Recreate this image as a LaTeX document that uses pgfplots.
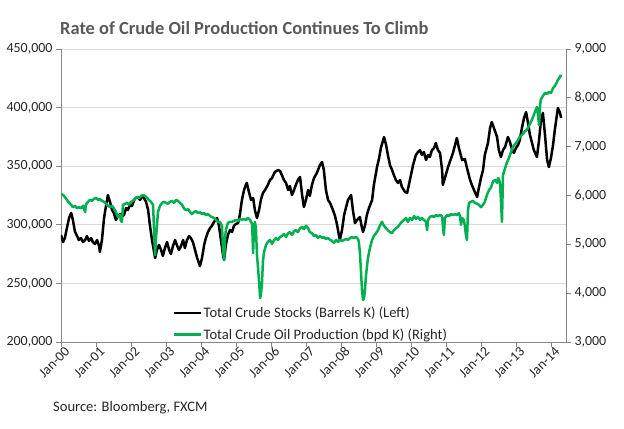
\documentclass[border=0pt]{standalone}
\usepackage{pgfplots}
\usepackage{pgfplotstable}
\pgfplotsset{compat=1.18}
\usepackage{fontspec}
\setmainfont{Carlito}
\definecolor{oilgreen}{HTML}{00B050}
\definecolor{axgray}{HTML}{868686}
\definecolor{gridgray}{HTML}{D9D9D9}
\definecolor{titlegray}{HTML}{595959}
\definecolor{txt}{HTML}{262626}

\pgfplotstableread{
x y
0.00 291300
0.06 285300
0.11 288700
0.17 297300
0.23 305800
0.29 310100
0.34 304100
0.40 293900
0.46 290400
0.51 287000
0.57 288700
0.63 285300
0.69 287000
0.74 290400
0.80 286200
0.86 288700
0.91 285300
0.97 283600
1.03 287000
1.09 281900
1.11 276800
1.17 287000
1.23 305800
1.29 316900
1.34 325400
1.40 319500
1.46 312600
1.51 310100
1.57 304100
1.63 307500
1.69 309200
1.74 306700
1.80 308400
1.86 314300
1.91 312600
1.97 316900
2.03 316000
2.09 321200
2.14 322900
2.20 323700
2.26 321200
2.31 324600
2.37 322900
2.43 319500
2.49 312600
2.54 299800
2.60 287000
2.66 276800
2.69 271700
2.74 278500
2.80 282800
2.86 278500
2.91 273400
2.97 280200
3.03 285300
3.09 278500
3.14 275100
3.20 281900
3.26 287000
3.31 282800
3.37 278500
3.43 281900
3.49 287000
3.54 280200
3.60 287000
3.66 290400
3.71 288700
3.77 285300
3.83 278500
3.89 271700
3.97 264800
4.03 271700
4.09 282800
4.14 288700
4.20 293900
4.26 297300
4.31 299000
4.37 302400
4.46 305800
4.51 299800
4.57 287000
4.63 274200
4.66 270000
4.71 282800
4.77 291300
4.83 295600
4.89 293900
4.94 299000
5.00 300700
5.06 301500
5.11 308400
5.17 321200
5.23 329700
5.29 334800
5.31 335700
5.37 328000
5.43 321200
5.49 322900
5.54 312600
5.60 305800
5.66 312600
5.71 321200
5.77 327100
5.83 329700
5.91 334000
5.97 338200
6.03 339900
6.11 345000
6.20 346800
6.26 345900
6.31 342500
6.37 338200
6.43 335700
6.49 329700
6.54 333100
6.60 325400
6.66 329700
6.71 334000
6.77 338200
6.83 340800
6.89 325400
6.94 315200
7.00 321200
7.06 329700
7.11 324600
7.17 334000
7.23 339900
7.31 344200
7.40 351000
7.46 353600
7.51 346800
7.57 329700
7.63 321200
7.69 318600
7.77 312600
7.83 307500
7.89 299800
7.94 291300
7.97 287000
8.03 295600
8.09 308400
8.14 314300
8.20 321200
8.29 325400
8.34 312600
8.40 301500
8.46 304100
8.54 306700
8.60 297300
8.63 293900
8.69 299800
8.74 308400
8.80 314300
8.89 321200
8.94 334000
9.03 349300
9.09 357000
9.14 365500
9.23 374900
9.29 368100
9.34 359600
9.40 351000
9.46 346800
9.51 342500
9.57 338200
9.63 335700
9.69 338200
9.74 332300
9.83 328000
9.89 327100
9.94 334000
10.00 342500
10.06 351000
10.14 359600
10.20 362100
10.26 363800
10.31 359600
10.37 362100
10.43 355300
10.49 359600
10.54 357900
10.60 363800
10.66 365500
10.71 369800
10.77 363800
10.83 361300
10.89 346800
10.91 334000
10.97 339900
11.06 349300
11.11 353600
11.20 361300
11.26 368100
11.31 374100
11.37 365500
11.46 355300
11.54 356100
11.60 348500
11.69 338200
11.74 334000
11.80 329700
11.89 323700
11.94 331400
12.00 339900
12.06 346800
12.11 359600
12.20 369800
12.26 382600
12.31 387700
12.37 382600
12.46 374900
12.51 363800
12.57 357900
12.63 363800
12.69 366400
12.77 374900
12.83 370600
12.89 363800
12.94 361300
13.00 365500
13.06 368100
13.11 372400
13.17 382600
13.23 391100
13.29 396200
13.34 387700
13.40 376600
13.46 369800
13.51 363800
13.60 357900
13.66 372400
13.71 387700
13.77 395400
13.83 376600
13.89 355300
13.94 349300
14.00 357000
14.06 368100
14.11 380900
14.17 393700
14.20 399700
14.26 395400
14.29 391100
}\stocks

\pgfplotstableread{
x y
0.00 6030
0.06 6010
0.11 5970
0.17 5910
0.23 5850
0.29 5810
0.34 5760
0.40 5790
0.46 5740
0.51 5760
0.57 5740
0.63 5790
0.69 5660
0.71 5810
0.77 5870
0.83 5910
0.89 5890
0.94 5930
1.00 5950
1.06 5910
1.11 5930
1.17 5890
1.23 5870
1.29 5830
1.34 5790
1.40 5760
1.46 5790
1.51 5740
1.57 5660
1.63 5560
1.69 5600
1.71 5480
1.74 5460
1.77 5810
1.83 5830
1.89 5850
1.94 5810
2.00 5870
2.06 5890
2.11 5930
2.17 5970
2.23 5950
2.29 5990
2.34 6010
2.40 5990
2.46 5950
2.51 5910
2.57 5870
2.63 5810
2.66 5290
2.69 4780
2.71 5090
2.74 5360
2.77 5660
2.83 5790
2.89 5850
2.94 5870
3.00 5850
3.06 5830
3.11 5870
3.17 5890
3.23 5850
3.29 5910
3.34 5890
3.40 5850
3.46 5810
3.51 5740
3.57 5700
3.63 5720
3.69 5660
3.74 5620
3.80 5660
3.86 5680
3.91 5640
3.97 5660
4.03 5620
4.09 5640
4.14 5600
4.20 5620
4.26 5580
4.31 5560
4.37 5540
4.43 5500
4.49 5460
4.54 5460
4.60 5380
4.63 4880
4.66 4680
4.69 5130
4.71 5290
4.77 5440
4.83 5460
4.89 5460
4.94 5480
5.00 5500
5.06 5480
5.11 5520
5.17 5500
5.23 5520
5.29 5500
5.34 5540
5.40 5500
5.46 5420
5.49 4820
5.51 5290
5.54 5460
5.57 5330
5.60 4780
5.63 4520
5.66 4230
5.69 3900
5.71 3960
5.74 4170
5.77 4640
5.80 4840
5.86 4990
5.91 5050
5.97 5090
6.03 5010
6.09 5090
6.14 5130
6.20 5090
6.26 5150
6.31 5170
6.37 5210
6.43 5150
6.49 5230
6.54 5250
6.60 5190
6.66 5270
6.71 5290
6.77 5250
6.83 5330
6.89 5360
6.94 5310
7.00 5380
7.06 5330
7.11 5250
7.17 5230
7.23 5170
7.29 5190
7.34 5130
7.40 5170
7.46 5130
7.51 5150
7.57 5110
7.63 5130
7.69 5090
7.74 5070
7.80 5030
7.86 5090
7.91 5050
7.97 5090
8.03 5070
8.09 5090
8.14 5110
8.20 5090
8.26 5130
8.31 5150
8.37 5130
8.43 5150
8.49 5110
8.51 5050
8.54 4840
8.57 4470
8.60 4070
8.63 3860
8.66 3900
8.69 4110
8.71 4330
8.77 4720
8.83 4930
8.89 5090
8.94 5170
9.00 5230
9.06 5290
9.11 5380
9.17 5460
9.23 5380
9.29 5330
9.34 5290
9.40 5250
9.46 5230
9.51 5290
9.57 5330
9.63 5360
9.69 5420
9.74 5460
9.80 5500
9.86 5540
9.91 5460
9.97 5540
10.03 5500
10.09 5580
10.14 5520
10.20 5560
10.26 5500
10.31 5540
10.37 5500
10.43 5460
10.46 5290
10.49 5500
10.54 5560
10.60 5580
10.66 5560
10.71 5600
10.77 5580
10.83 5600
10.89 5580
10.91 5400
10.94 5190
10.97 5540
11.03 5600
11.09 5580
11.14 5620
11.20 5600
11.26 5620
11.31 5600
11.37 5640
11.40 5580
11.43 5400
11.46 5540
11.51 5500
11.54 5380
11.57 5190
11.60 5090
11.63 5700
11.66 5850
11.71 5870
11.77 5890
11.83 5850
11.89 5830
11.94 5810
12.00 5760
12.06 5810
12.11 5870
12.17 6010
12.23 6110
12.29 6170
12.34 6280
12.40 6320
12.46 6260
12.49 6360
12.54 6280
12.57 5910
12.60 5460
12.63 6420
12.69 6560
12.74 6670
12.80 6770
12.86 6890
12.91 6990
12.97 7050
13.03 7100
13.09 7180
13.14 7220
13.20 7260
13.26 7320
13.31 7340
13.37 7420
13.43 7510
13.49 7610
13.54 7710
13.60 7810
13.63 7650
13.66 7440
13.69 7850
13.71 7960
13.77 8040
13.83 8100
13.89 8080
13.94 8120
14.00 8100
14.06 8200
14.11 8240
14.17 8320
14.20 8370
14.26 8430
14.29 8470
}\production

\pgfplotsset{
  myaxis/.style={
    scale only axis, width=505bp, height=293bp,
    at={(0,0)}, anchor=south west,
    xmin=0, xmax=14.43,
    axis line style={axgray, line width=0.75bp},
    tick style={axgray, line width=0.75bp},
    tick align=outside, major tick length=5bp,
    ticklabel style={font=\fontsize{14}{16}\selectfont, text=txt},
    /pgf/number format/fixed,
    /pgf/number format/1000 sep={,},
    /pgf/number format/assume math mode=true,
    scaled y ticks=false,
  }
}

\begin{document}
\begin{tikzpicture}
\begin{axis}[myaxis, name=main,
  ymin=200000, ymax=450000,
  axis y line*=left, axis x line*=bottom,
  ytick={200000,250000,300000,350000,400000,450000},
  ymajorgrids, grid style={gridgray, line width=0.75bp},
  xtick={0,1,...,14},
  xticklabels={Jan-00,Jan-01,Jan-02,Jan-03,Jan-04,Jan-05,Jan-06,Jan-07,Jan-08,Jan-09,Jan-10,Jan-11,Jan-12,Jan-13,Jan-14},
  xticklabel style={rotate=45, anchor=east, inner sep=1bp, xshift=4bp, yshift=-6bp},
]
\addplot[black, line width=2.5bp, line join=round] table {\stocks};
\end{axis}
\begin{axis}[myaxis,
  ymin=3000, ymax=9000,
  axis y line*=right, axis x line=none,
  ytick={3000,4000,5000,6000,7000,8000,9000},
  legend style={at={(axis description cs:0.2218,0.0)}, anchor=south west,
    draw=none, fill=none, inner sep=0pt, row sep=7.5bp,
    font=\fontsize{14.6}{17}\selectfont, text=txt,
    nodes={inner sep=1bp}},
  legend cell align=left,
  legend image code/.code={\draw[#1] (0bp,0bp) -- (27bp,0bp);},
]
\addlegendimage{black, line width=2.5bp}
\addlegendentry{Total Crude Stocks (Barrels K) (Left)}
\addplot[oilgreen, line width=2.5bp, line join=round] table {\production};
\addlegendentry{Total Crude Oil Production (bpd K) (Right)}
\end{axis}
\node[anchor=base west, inner sep=0pt, font=\bfseries\fontsize{18.5}{22}\selectfont, text=titlegray]
  at ([shift={(-1bp,307.7bp)}]main.south west) {Rate of Crude Oil Production Continues To Climb};
\node[anchor=base west, inner sep=0pt, font=\fontsize{14.6}{17}\selectfont, text=txt]
  at ([shift={(-8bp,-69.7bp)}]main.south west) {Source: Bloomberg, FXCM};
\pgfresetboundingbox
\path (main.south west) ++(-61bp,-87bp) rectangle ++(624bp,429bp);
\end{tikzpicture}
\end{document}
